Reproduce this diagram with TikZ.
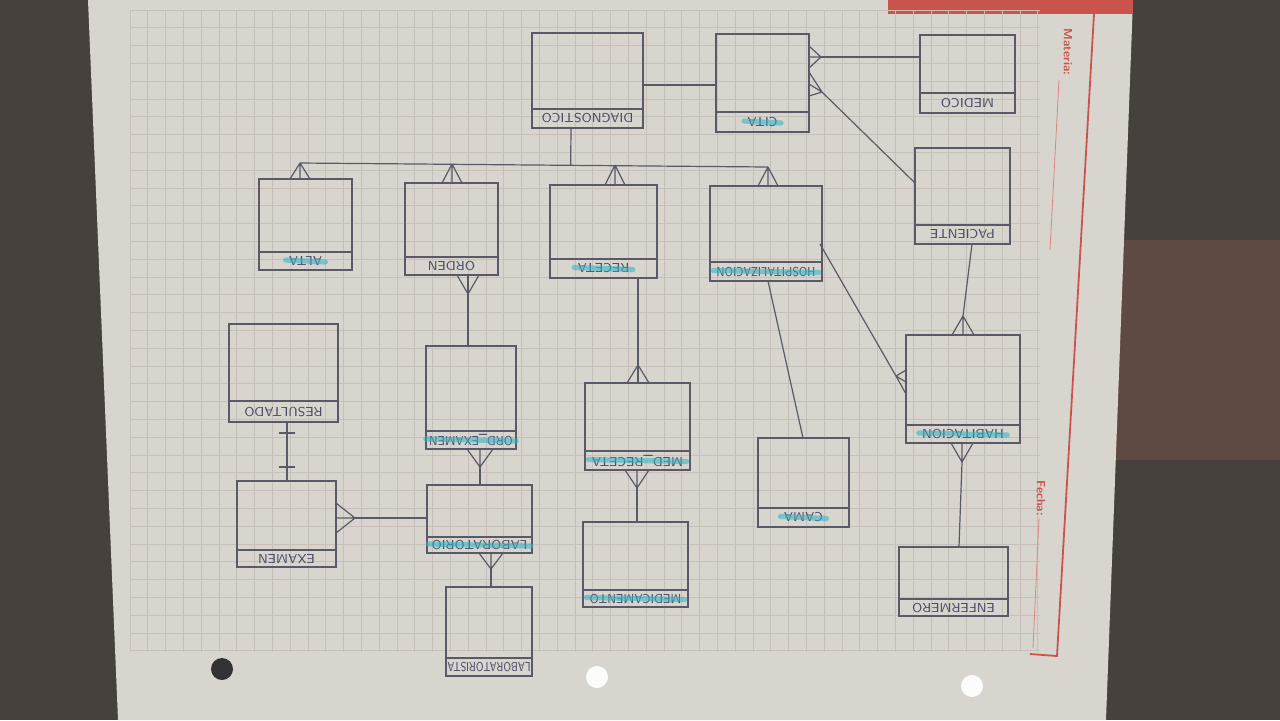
\documentclass[tikz,border=0pt]{standalone}
\usetikzlibrary{calc}
\definecolor{bg}{HTML}{46413D}
\definecolor{bgr}{HTML}{5E4A42}
\definecolor{paper}{HTML}{D8D5CF}
\definecolor{gridc}{HTML}{C9BFBA}
\definecolor{pencil}{HTML}{5A5A66}
\definecolor{ink}{HTML}{4C4C66}
\definecolor{redm}{HTML}{C9544C}
\definecolor{hlc}{HTML}{2DB4C6}
\tikzset{
 box/.style={draw=pencil, line width=0.6pt, inner sep=0pt, outer sep=0pt},
 rel/.style={draw=pencil, line width=0.6pt},
 lbl/.style={text=ink, font=\sffamily\fontsize{6.5}{7}\selectfont, rotate=180, inner sep=0pt},
 hl/.style={draw=hlc, line width=2.6pt, opacity=0.55, line cap=round},
 gridl/.style={draw=gridc, line width=0.35pt},
 margtxt/.style={text=redm, font=\sffamily\bfseries\fontsize{6}{7}\selectfont, rotate=-90, inner sep=0pt},
}
% #1 label options, #2 name, #3 x1, #4 y1, #5 x2, #6 y2, #7 band, #8 label
\newcommand\entity[8][]{%
 \node[box, anchor=north west, minimum width={(#5-#3)*0.5pt}, minimum height={(#6-#4)*0.5pt}] (#2) at (#3,#4) {};
 \draw[box] ($(#2.south west)+(0,-#7)$) -- ($(#2.south east)+(0,-#7)$);
 \node[lbl,#1] (#2-l) at ($(#2.south)+(0,-#7/2)$) {#8};
}
\newcommand\hmark[1]{\draw[hl] ($(#1-l.west)+(3,1)$) -- ($(#1-l.east)+(-3,-1)$);}
% crow's foot: #1 contact coordinate, #2 apex vector, #3 spread vector
\newcommand\crow[3]{\draw[rel] ($(#1)+#2$) -- ($(#1)+#3$) ($(#1)+#2$) -- (#1) ($(#1)+#2$) -- ($(#1)-#3$);}
\begin{document}
\begin{tikzpicture}[x=0.5pt,y=-0.5pt]
\useasboundingbox (0,0) rectangle (1280,720);
% background and sheet
\fill[bg] (0,0) rectangle (1280,720);
\fill[bgr] (1110,240) rectangle (1280,460);
\fill[paper] (88,0) -- (1133,0) -- (1106,720) -- (118,720) -- cycle;
\fill[redm] (888,0) rectangle (1133,14);
\foreach \i in {0,...,51} \draw[gridl] (130+\i*17.8,10) -- (130+\i*17.8,652);
\foreach \j in {0,...,36} \draw[gridl] (130,10+\j*17.8) -- (1040,10+\j*17.8);
\draw[redm, line width=0.9pt] (1094,14) -- (1057,656) -- (1030,654);
\node[margtxt] (materia) at (1068,52) {Materia:};
\draw[redm!70, line width=0.4pt] (1059,80) -- (1050,250);
\node[margtxt] (fecha) at (1041,498) {Fecha:};
\draw[redm!70, line width=0.4pt] (1039,518) -- (1033,648);
\fill[black!80] (222,669) circle [radius=5.5pt];
\fill[white!92!paper] (597,677) circle [radius=5.5pt];
\fill[white!92!paper] (972,686) circle [radius=5.5pt];
% entities
\entity{diag}{532}{33}{643}{128}{19}{DIAGNOSTICO}
\entity{cita}{716}{34}{809}{132}{20}{CITA}
\entity{medico}{920}{35}{1015}{113}{20}{MEDICO}
\entity{paciente}{915}{148}{1010}{244}{19}{PACIENTE}
\entity{alta}{259}{179}{352}{270}{18}{ALTA}
\entity{orden}{405}{183}{498}{275}{18}{ORDEN}
\entity{receta}{550}{185}{657}{278}{19}{RECETA}
\entity[xscale=0.83]{hosp}{710}{186}{822}{281}{19}{HOSPITALIZACION}
\entity{result}{229}{324}{338}{422}{21}{RESULTADO}
\entity[xscale=0.88]{ordex}{426}{346}{516}{449}{18}{ORD\_EXAMEN}
\entity{medrec}{585}{383}{690}{470}{19}{MED\_RECETA}
\entity{cama}{758}{438}{849}{527}{19}{CAMA}
\entity{habit}{906}{335}{1020}{443}{18}{HABITACION}
\entity{examen}{237}{481}{336}{567}{17}{EXAMEN}
\entity{lab}{427}{485}{532}{553}{16}{LABORATORIO}
\entity[xscale=0.75]{labtista}{446}{587}{532}{676}{18}{LABORATORISTA}
\entity[xscale=0.9]{medic}{583}{522}{688}{607}{17}{MEDICAMENTO}
\entity{enfer}{899}{547}{1008}{616}{17}{ENFERMERO}
\foreach \e in {cita,alta,receta,hosp,ordex,medrec,cama,habit,lab,medic} {\hmark{\e}}
% relationships
\coordinate (dc) at ($(diag.north east)+(0,52)$);
\draw[rel] (dc) -- (dc -| cita.west);
\coordinate (cm) at ($(cita.north east)+(0,23)$);
\draw[rel] ($(cm)+(12,0)$) -- (cm -| medico.west);
\crow{cm}{(12,0)}{(0,11)}
\coordinate (cp) at ($(cita.north east)+(0,50)$);
\draw[rel] ($(cp)+(13,8)$) -- ($(paciente.north west)+(0,35)$);
\crow{cp}{(13,8)}{(0,12)}
% diagnostico bus
\coordinate (dgb) at ($(diag.south west)+(39,0)$);
\coordinate (balta) at ($(alta.north west)+(41,-16)$);
\coordinate (bhosp) at ($(hosp.north west)+(58,-19)$);
\draw[rel] (balta) -- (bhosp);
\draw[rel] (dgb) -- ($(balta)!(dgb)!(bhosp)$);
\coordinate (calta) at ($(alta.north west)+(41,0)$);
\crow{calta}{(0,-16)}{(10,0)}
\coordinate (corden) at ($(orden.north west)+(47,0)$);
\crow{corden}{(0,-19)}{(10,0)}
\coordinate (creceta) at ($(receta.north west)+(65,0)$);
\crow{creceta}{(0,-20)}{(10,0)}
\coordinate (chosp) at ($(hosp.north west)+(58,0)$);
\crow{chosp}{(0,-19)}{(10,0)}
% orden - ord_examen
\coordinate (oo) at ($(orden.south west)+(63,0)$);
\draw[rel] (oo) -- (oo |- ordex.north);
\crow{oo}{(0,19)}{(11,0)}
% receta - med_receta
\coordinate (rm) at ($(receta.south west)+(88,0)$);
\coordinate (rm2) at (rm |- medrec.north);
\draw[rel] (rm) -- (rm2);
\crow{rm2}{(0,-18)}{(11,0)}
% hospitalizacion - cama
\draw[rel] ($(hosp.south west)+(58,0)$) -- ($(cama.north west)+(45,0)$);
% hospitalizacion - habitacion
\coordinate (hh) at ($(habit.north west)+(0,47)$);
\draw[rel] ($(hosp.north east)+(-2,58)$) -- ($(hh)+(-10,-6)$);
\crow{hh}{(-10,-6)}{(0,12)}
% paciente - habitacion
\coordinate (ph) at ($(habit.north west)+(57,0)$);
\draw[rel] ($(paciente.south west)+(57,0)$) -- ($(ph)+(0,-19)$);
\crow{ph}{(0,-19)}{(11,0)}
% habitacion - enfermero
\coordinate (he) at ($(habit.south west)+(56,0)$);
\draw[rel] ($(he)+(0,19)$) -- ($(enfer.north west)+(60,0)$);
\crow{he}{(0,19)}{(11,0)}
% resultado - examen (one to one)
\coordinate (re) at ($(result.south west)+(58,0)$);
\draw[rel] (re) -- (re |- examen.north);
\draw[rel] ($(re)+(-8,11)$) -- ($(re)+(8,11)$) ($(re)+(-8,45)$) -- ($(re)+(8,45)$);
% examen - laboratorio
\coordinate (el) at ($(examen.north east)+(0,37)$);
\draw[rel] ($(el)+(19,0)$) -- (el -| lab.west);
\crow{el}{(19,0)}{(0,15)}
% ord_examen - laboratorio
\coordinate (ol) at ($(ordex.south west)+(54,0)$);
\draw[rel] ($(ol)+(0,18)$) -- (ol |- lab.north);
\crow{ol}{(0,18)}{(13,0)}
% laboratorio - laboratorista
\coordinate (ll) at ($(lab.south west)+(64,0)$);
\draw[rel] ($(ll)+(0,16)$) -- (ll |- labtista.north);
\crow{ll}{(0,16)}{(12,0)}
% med_receta - medicamento
\coordinate (mm) at ($(medrec.south west)+(52,0)$);
\draw[rel] ($(mm)+(0,18)$) -- (mm |- medic.north);
\crow{mm}{(0,18)}{(12,0)}
\end{tikzpicture}
\end{document}
